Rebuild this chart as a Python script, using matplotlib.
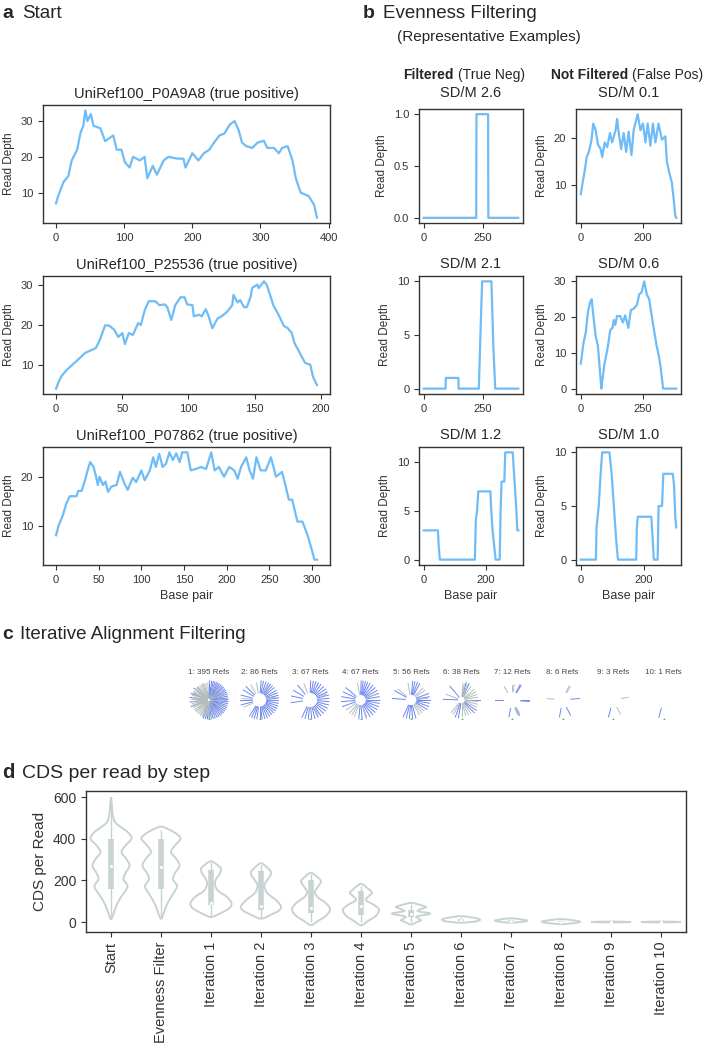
import numpy as np
import matplotlib
matplotlib.use("Agg")
import matplotlib.pyplot as plt
from matplotlib.path import Path
from matplotlib.patches import PathPatch

plt.rcParams["font.family"] = ["Liberation Sans", "DejaVu Sans"]
plt.rcParams["text.color"] = "#262626"
plt.rcParams["axes.edgecolor"] = "#333333"
plt.rcParams["axes.linewidth"] = 1.0
plt.rcParams["xtick.color"] = "#333333"
plt.rcParams["ytick.color"] = "#333333"
plt.rcParams["xtick.major.size"] = 3.5
plt.rcParams["ytick.major.size"] = 3.5

W, H = 709, 1049
LINE = "#6fbcf6"

# ---- panel a: coverage of true positives (base pair, read depth)
a_titles = ["UniRef100_P0A9A8 (true positive)", "UniRef100_P25536 (true positive)",
            "UniRef100_P07862 (true positive)"]
a1 = [(0, 7), (3, 9), (11, 13), (18, 14.6), (23, 19), (31, 22), (36, 26.8), (40, 28.7), (43, 33),
      (46, 30), (51, 32), (55, 28.7), (65, 28), (72, 24.4), (84, 26), (89, 22), (96, 22), (101, 18.5),
      (108, 17), (113, 20), (123, 19), (130, 20), (134, 14), (142, 17.5), (148, 15), (158, 19),
      (165, 20), (178, 19.5), (187, 19.5), (190, 17), (200, 21), (209, 19), (217, 21), (225, 22),
      (232, 24), (240, 26), (247, 26.5), (255, 29), (262, 30), (268, 27.5), (273, 24), (279, 23),
      (288, 22.5), (296, 24), (305, 24.5), (310, 22.5), (320, 22.5), (327, 21), (332, 22.5),
      (340, 23), (347, 19), (352, 14), (359, 10), (371, 9), (379, 6.5), (383, 3)]
a2 = [(0, 4), (2, 5.7), (4, 7.1), (8, 8.7), (15, 10.8), (22, 13), (30, 14.2), (33, 16.2), (37, 19.9),
      (40, 19.9), (44, 18.8), (47, 17), (50, 18), (52, 15.2), (55, 18), (58, 17.5), (62, 20.5),
      (64, 20), (67, 23.8), (70, 26), (75, 26), (78, 25), (82, 25.2), (84, 24.5), (87, 21.3),
      (90, 25), (94, 27), (97, 27), (99, 25.2), (103, 25), (104, 22.2), (108, 22.6), (110, 22.2),
      (113, 24), (115, 22.4), (118, 19.2), (122, 21.7), (125, 22.2), (129, 23.3), (133, 25),
      (134, 27.6), (137, 25.7), (139, 26.3), (142, 24.5), (144, 24.5), (147, 27.2), (148, 29.3),
      (152, 30.2), (153, 29.3), (157, 31), (159, 30.2), (162, 27.2), (164, 25), (168, 22.6),
      (172, 19.8), (175, 19.2), (178, 18), (180, 15.5), (184, 13), (188, 10.5), (192, 10),
      (194, 7), (197, 4.9)]
a3 = [(0, 8), (3, 10), (8, 12.1), (12, 14.5), (16, 16), (24, 16), (26, 17.1), (30, 17.1), (34, 19.3),
      (37, 21.3), (40, 23), (44, 22), (47, 20), (49, 18.3), (51, 20), (55, 18.3), (58, 19), (61, 16.9),
      (65, 18), (71, 18.3), (75, 21), (80, 18.7), (84, 17.3), (90, 19.8), (94, 18.9), (100, 21.3),
      (104, 19.3), (110, 21.3), (114, 24), (117, 22), (121, 24.7), (125, 22), (129, 22.7), (133, 25),
      (137, 23.4), (141, 24.8), (145, 23), (148, 25), (154, 25), (158, 21.3), (164, 21.6), (170, 22),
      (176, 21.6), (182, 25), (186, 21.3), (191, 22), (197, 20), (203, 22), (209, 21.3), (213, 19.6),
      (217, 22), (223, 24), (227, 21.3), (231, 19.6), (235, 24), (240, 21.3), (246, 21.3), (252, 24),
      (258, 20), (265, 21), (269, 18.3), (273, 15.3), (277, 15.3), (283, 10.8), (289, 10.8),
      (295, 8), (300, 5), (303, 3), (306, 3)]
a_xticks = [[0, 100, 200, 300, 400], [0, 50, 100, 150, 200], [0, 50, 100, 150, 200, 250, 300]]
a_yticks = [[10, 20, 30], [10, 20, 30], [10, 20]]

# ---- panel b: evenness examples
b_titles = ["SD/M 2.6", "SD/M 0.1", "SD/M 2.1", "SD/M 0.6", "SD/M 1.2", "SD/M 1.0"]
b1 = [(0, 0), (221, 0), (222, 1), (271, 1), (272, 0), (398, 0)]
b2 = [(0, 8), (5, 10.1), (14, 13.5), (19, 15.9), (26, 17), (34, 19.3), (40, 23), (48, 21.6), (55, 18.6),
      (64, 17.6), (69, 15.9), (77, 19), (85, 18), (94, 21), (101, 19), (112, 21.6), (117, 24), (122, 21),
      (130, 17.6), (138, 21), (146, 17), (154, 21.3), (163, 16.3), (170, 21.6), (183, 25), (192, 21.6),
      (200, 23), (208, 19), (215, 23), (224, 18.3), (232, 23), (240, 19), (250, 23), (261, 19.6),
      (272, 20.3), (277, 14.9), (286, 12.2), (293, 10.5), (299, 6.8), (304, 3.4), (307, 3)]
b3 = [(0, 0), (92, 0), (93, 1), (146, 1), (147, 0), (232, 0), (236, 3), (240, 6), (243, 8), (246, 10),
      (285, 10), (289, 7), (293, 4), (297, 2), (301, 0), (398, 0)]
b4 = [(0, 7), (11, 12.8), (20, 15.6), (29, 21.5), (37, 24), (44, 25), (50, 20.9), (60, 14.7), (69, 12),
      (76, 6), (83, 0), (88, 3), (93, 5.4), (95, 6.7), (108, 11.2), (119, 16.4), (128, 17), (133, 19.2),
      (139, 17.8), (146, 20.3), (159, 20.3), (170, 18.5), (179, 20.5), (192, 17), (202, 22), (212, 22.3),
      (226, 23.3), (236, 26.4), (245, 26.9), (256, 30), (266, 26.4), (276, 25), (285, 20.9), (292, 17.8),
      (305, 12.3), (316, 8.7), (322, 6), (332, 0), (385, 0)]
b5 = [(0, 3), (46, 3), (48, 1.5), (52, 0), (165, 0), (168, 4), (172, 5), (176, 7), (215, 7), (218, 5),
      (222, 3), (227, 1.5), (232, 0), (245, 0), (248, 5), (251, 8), (260, 8), (263, 11), (287, 11),
      (291, 9), (295, 7), (299, 5), (302, 3), (305, 3)]
b6 = [(0, 0), (48, 0), (50, 3), (57, 5), (63, 8), (68, 10), (91, 10), (98, 8), (105, 5), (112, 2),
      (118, 0), (176, 0), (178, 3), (181, 4), (224, 4), (228, 2), (232, 0), (244, 0), (247, 5), (258, 5),
      (262, 8), (292, 8), (296, 7), (300, 4), (303, 3)]
b_xticks = [[0, 250], [0, 200], [0, 250], [0, 250], [0, 200], [0, 200]]
b_yticks = [[0, 0.5, 1.0], [10, 20], [0, 5, 10], [0, 10, 20, 30], [0, 5, 10], [0, 5, 10]]

# ---- panel c: iterative alignment filtering (spoke angles in degrees)
c_labels = ["1: 395 Refs", "2: 86 Refs", "3: 67 Refs", "4: 67 Refs", "5: 56 Refs",
            "6: 38 Refs", "7: 12 Refs", "8: 6 Refs", "9: 3 Refs", "10: 1 Refs"]
c_inner = [0.12, 0.38, 0.4, 0.3, 0.3, 0.2, 0.45, 0.45, 0.45, 0.45]
c_outer = [1.0, 1.0, 1.0, 1.0, 0.98, 0.95, 0.9, 0.9, 0.92, 0.95]
c_blue = [
    [88, 82, 77, 72, 67, 62, 57, 52, 46, 41, 35, 30, 24, 18, 12, 6, 1, -5, -11, -17, -23, -29, -35,
     -41, -47, -53, -59, -65, -71, -77, -83, -89, -95, -101, -108, 160, 172, 186, 142, 200],
    [85, 78, 70, 62, 55, 48, 40, 30, 22, 14, 6, -2, -10, -18, -26, -34, -42, -50, -58, -66, -74,
     -82, -90, -98, -106, -114, -122, 148, 165, 182, 195, 135],
    [88, 80, 72, 64, 55, 45, 35, 25, 15, 5, -5, -15, -25, -35, -45, -55, -65, -75, -85, -95, -105,
     -115, 150, 168, 188, 130],
    [88, 82, 75, 68, 60, 50, 40, 30, 20, 10, 0, -10, -20, -30, -40, -50, -60, -72, -85, -95, 140,
     155, 170, 185, 200],
    [85, 78, 70, 62, 20, 10, 0, -10, -20, -30, -75, -85, -95, -105, -115, 150, 175],
    [130, 178, 75, 65, 0, -35, -45, -100, -110],
    [180, 62, 58, 0, -5, -65, -100],
    [5, -100, -62],
    [-105],
    [-105],
]
c_gray = [
    [94, 101, 108, 115, 122, 129, 136, 143, 150, 157, 164, 171, 178, 185, 192, 199, 206, 213, 220,
     227, 234, 241, 248, 255, 262, 268, 112, 132, 154, 176, 198, 220, 242, 20, 50, -30, -60, 0, 70,
     -100, -80, 35],
    [100, 120, 175, 205, 60, -40, 10],
    [110, -60, 20],
    [-110, -120, -130, 215, 100, 20, -70],
    [140, 45, 35, -40, -50, -60, 5, 100],
    [85, 80, 70, 55, 40, 30, 20, 10, -5, -15, -25, -55, -65, -75, -90, -120, -130, 160],
    [120, 82, 90, -60, -70],
    [175, 60, 65],
    [10, -62],
    [],
]

# ---- panel d: CDS per read by step (violin outline: value, half width; box stats)
d_steps = ["Start", "Evenness Filter"] + ["Iteration %d" % i for i in range(1, 11)]
d_vals = [
    [14, 40, 80, 120, 150, 175, 205, 235, 270, 305, 335, 365, 400, 430, 455, 480, 520, 600],
    [15, 40, 80, 120, 150, 175, 205, 235, 270, 305, 335, 365, 400, 425, 445, 458],
    [24, 40, 65, 90, 120, 150, 180, 205, 230, 255, 275, 292],
    [16, 35, 55, 75, 105, 140, 175, 200, 220, 240, 262, 282],
    [-15, 5, 30, 60, 90, 120, 145, 170, 195, 215, 236],
    [-16, 5, 30, 60, 85, 105, 125, 140, 160, 183],
    [-12, 0, 8, 18, 27, 40, 52, 62, 72, 82, 92],
    [-3, 3, 12, 20, 28],
    [-3, 2, 7, 12, 18],
    [-10, -4, 2, 8, 14],
    [-2, 0, 2],
    [-2, 0, 2],
]
d_half = [
    [0, 0.05, 0.11, 0.2, 0.29, 0.33, 0.25, 0.29, 0.37, 0.3, 0.21, 0.28, 0.41, 0.34, 0.2, 0.08, 0.03, 0],
    [0, 0.05, 0.11, 0.2, 0.28, 0.32, 0.24, 0.28, 0.37, 0.3, 0.2, 0.27, 0.39, 0.3, 0.15, 0],
    [0, 0.17, 0.36, 0.41, 0.32, 0.14, 0.08, 0.1, 0.17, 0.2, 0.12, 0],
    [0, 0.2, 0.36, 0.4, 0.3, 0.12, 0.07, 0.12, 0.18, 0.2, 0.12, 0],
    [0, 0.14, 0.3, 0.38, 0.3, 0.13, 0.08, 0.14, 0.2, 0.13, 0],
    [0, 0.14, 0.3, 0.36, 0.24, 0.1, 0.16, 0.22, 0.14, 0],
    [0, 0.12, 0.2, 0.14, 0.12, 0.38, 0.14, 0.2, 0.3, 0.18, 0],
    [0, 0.3, 0.38, 0.26, 0],
    [0, 0.25, 0.32, 0.22, 0],
    [0, 0.3, 0.38, 0.25, 0],
    [0, 0.4, 0],
    [0, 0.4, 0],
]
d_q1 = [160, 160, 80, 60, 45, 35, 25, 5, 3, 0, 0, 0]
d_med = [270, 265, 90, 75, 65, 75, 40, 10, 6, 2, 0, 0]
d_q3 = [400, 400, 250, 245, 200, 150, 60, 15, 10, 6, 0, 0]
d_lo = [15, 25, 25, 20, 0, 0, 0, 0, 0, 0, 0, 0]
d_hi = [560, 440, 290, 275, 230, 175, 85, 25, 15, 10, 0, 0]


def add_ax(x0, y0, x1, y1, **kw):
    return fig.add_axes([x0 / W, 1 - y1 / H, (x1 - x0) / W, (y1 - y0) / H], **kw)


def coverage(ax, pts, xt, yt, title, pad):
    x, y = zip(*pts)
    ax.plot(x, y, color=LINE, lw=1.6)
    ax.set_xticks(xt)
    ax.set_yticks(yt)
    ax.tick_params(labelsize=8, labelcolor="#333333")
    ax.set_ylabel("Read Depth", fontsize=8.5, color="#333333")
    ax.set_title(title, fontsize=10.5, pad=pad, color="#262626")


def smooth_outline(pos, vals, half):
    pts = [(pos + h, v) for v, h in zip(vals, half)]
    pts += [(pos - h, v) for v, h in zip(vals[-2:0:-1], half[-2:0:-1])]
    P = np.array(pts, dtype=float)
    n = len(P)
    verts, codes = [P[0]], [Path.MOVETO]
    for i in range(n):
        p0, p1, p2, p3 = P[i - 1], P[i], P[(i + 1) % n], P[(i + 2) % n]
        verts += [p1 + (p2 - p0) / 6, p2 - (p3 - p1) / 6, p2]
        codes += [Path.CURVE4] * 3
    return Path(verts, codes)


fig = plt.figure(figsize=(W / 100, H / 100), dpi=100)

# panel a
a_rows = [(105, 223), (276, 394), (447, 565)]
for i, (pts, (t, b)) in enumerate(zip([a1, a2, a3], a_rows)):
    ax = add_ax(43, t, 330, b)
    coverage(ax, pts, a_xticks[i], a_yticks[i], a_titles[i], 5)
    if i == 2:
        ax.set_xlabel("Base pair", fontsize=9, color="#333333")

# panel b
b_rows = [(109, 223), (276, 394), (447, 565)]
b_cols = [(419, 523), (576, 681)]
for k, pts in enumerate([b1, b2, b3, b4, b5, b6]):
    r, c = divmod(k, 2)
    ax = add_ax(b_cols[c][0], b_rows[r][0], b_cols[c][1], b_rows[r][1])
    coverage(ax, pts, b_xticks[k], b_yticks[k], b_titles[k], 8.5 if r == 0 else 6)
    if r == 2:
        ax.set_xlabel("Base pair", fontsize=9, color="#333333")

# panel c
BLUE, GRAY = "#6a86f2", "#b5bdbd"
for i in range(10):
    cx = 209 + 50.5 * i
    ax = add_ax(cx - 20, 680, cx + 20, 720, projection="polar")
    ax.set_ylim(0, 1.05)
    ax.axis("off")
    for ang in c_blue[i]:
        th = np.deg2rad(ang)
        ax.plot([th, th], [c_inner[i], c_outer[i]], color=BLUE, lw=0.7)
    for ang in c_gray[i]:
        th = np.deg2rad(ang)
        ax.plot([th, th], [c_inner[i], c_outer[i] * 0.9], color=GRAY, lw=0.7)
    ax.plot([np.deg2rad(-90)], [1.0], "o", ms=1.4, color="#4fbf4f", mec="none")
    fig.text(cx / W, 1 - 672 / H, c_labels[i], fontsize=5.8, ha="center", va="center", color="#444444")

# panel d
VC = "#c8d2d2"
ax = add_ax(86, 791, 686, 932)
for i in range(len(d_steps)):
    ax.add_patch(PathPatch(smooth_outline(i, d_vals[i], d_half[i]), fc="none", ec=VC, lw=1.4))
    ax.plot([i, i], [d_lo[i], d_hi[i]], color=VC, lw=1.0, solid_capstyle="butt")
    ax.plot([i, i], [d_q1[i], d_q3[i]], color=VC, lw=4.0, solid_capstyle="butt")
    ax.plot([i], [d_med[i]], "o", ms=2.2, color="white", mec="none", zorder=5)
ax.set_xlim(-0.5, len(d_steps) - 0.5)
ax.set_ylim(-48, 629)
ax.set_yticks([0, 200, 400, 600])
ax.set_xticks(range(len(d_steps)))
ax.set_xticklabels(d_steps, rotation=90, fontsize=10.5, color="#333333")
ax.tick_params(axis="y", labelsize=10, labelcolor="#333333")
ax.set_ylabel("CDS per Read", fontsize=11, color="#333333")

# panel headings
def heading(x_letter, x_text, y, letter, text, size=13.5):
    fig.text(x_letter / W, 1 - y / H, letter, fontsize=size + 0.5, weight="bold", va="baseline")
    fig.text(x_text / W, 1 - y / H, text, fontsize=size, va="baseline")

heading(2, 22, 18, "a", "Start")
heading(363, 383, 18, "b", "Evenness Filtering")
fig.text(489 / W, 1 - 41.5 / H, "(Representative Examples)", fontsize=11, ha="center", va="baseline")
fig.text(454 / W, 1 - 79 / H, "Filtered", fontsize=10, weight="bold", ha="right", va="baseline")
fig.text(458 / W, 1 - 79 / H, "(True Neg)", fontsize=10, ha="left", va="baseline")
fig.text(628 / W, 1 - 79 / H, "Not Filtered", fontsize=10, weight="bold", ha="right", va="baseline")
fig.text(632 / W, 1 - 79 / H, "(False Pos)", fontsize=10, ha="left", va="baseline")
heading(2, 20.5, 639, "c", "Iterative Alignment Filtering")
heading(2, 22, 778, "d", "CDS per read by step", size=14)

fig.savefig("out.png", dpi=100)
